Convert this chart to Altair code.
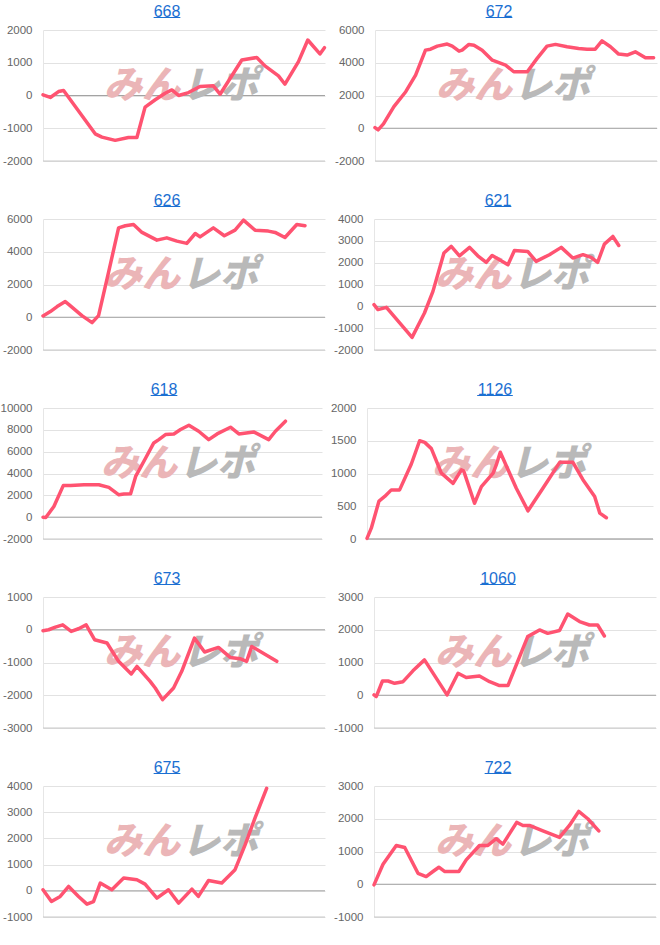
import altair as alt
import pandas as pd

titles = ["668", "672", "626", "621", "618", "1126", "673", "1060", "675", "722"]

x_668 = [0, 2.6, 5.5, 7.3, 18.5, 20.9, 25.6, 30.3, 33.3, 36.2, 39.8, 43.3, 45.7, 48.1, 51.6, 55.7, 60.4, 62.8, 70.5, 75.8, 78.7, 83.5, 85.8, 90.6, 93.9, 98.2, 99.8]
y_668 = [20, -60, 120, 150, -1170, -1270, -1370, -1280, -1280, -355, -130, 70, 170, 0, 90, 275, 295, 40, 1085, 1160, 905, 600, 345, 1035, 1695, 1270, 1460]

x_672 = [0, 1.1, 3.0, 6.7, 10.9, 14.4, 17.9, 19.7, 22.1, 25.6, 27.4, 29.8, 30.9, 33.3, 35.1, 38.0, 41.6, 46.3, 49.2, 54.0, 57.5, 61.0, 64.0, 68.1, 72.2, 75.2, 78.1, 80.5, 83.5, 86.4, 89.4, 92.3, 95.9, 98.8]
y_672 = [40, -100, 265, 1320, 2230, 3250, 4770, 4830, 5015, 5140, 5015, 4710, 4770, 5120, 5075, 4770, 4160, 3860, 3450, 3450, 4265, 5015, 5120, 4975, 4870, 4830, 4830, 5340, 4975, 4530, 4470, 4670, 4300, 4300]

x_626 = [0, 2.6, 5.0, 7.9, 9.1, 13.8, 17.4, 19.7, 23.3, 26.8, 29.2, 32.1, 35.1, 40.4, 43.9, 47.5, 51.0, 54.0, 55.7, 60.4, 64.3, 68.1, 71.1, 75.2, 79.9, 82.3, 85.8, 90.0, 92.9]
y_626 = [80, 345, 650, 955, 790, 100, -325, 100, 2780, 5460, 5585, 5665, 5180, 4710, 4850, 4650, 4510, 5115, 4910, 5460, 4975, 5320, 5930, 5320, 5260, 5180, 4870, 5665, 5585]

x_621 = [0, 1.4, 4.4, 9.1, 13.5, 17.9, 20.9, 24.8, 27.4, 30.3, 33.9, 36.8, 39.8, 41.9, 44.5, 47.5, 49.8, 54.5, 57.5, 62.2, 66.4, 70.5, 74.1, 77.0, 79.3, 81.7, 84.7, 86.8]
y_621 = [75, -150, -45, -760, -1420, -305, 685, 2440, 2745, 2315, 2700, 2315, 2010, 2330, 2135, 1905, 2560, 2515, 2060, 2365, 2700, 2210, 2365, 2240, 2010, 2850, 3200, 2790]

x_618 = [0, 1.0, 3.9, 7.3, 9.9, 14.7, 20.0, 23.6, 27.2, 29.0, 31.4, 33.2, 36.8, 39.7, 41.5, 43.9, 46.9, 49.3, 52.3, 55.8, 59.4, 62.4, 67.2, 70.2, 75.5, 80.9, 83.3, 86.9]
y_618 = [0, -30, 980, 2910, 2910, 2970, 2970, 2725, 2050, 2115, 2145, 3735, 5420, 6800, 7105, 7565, 7625, 8025, 8420, 7870, 7105, 7625, 8240, 7625, 7810, 7105, 7870, 8790]

x_1126 = [0, 1.5, 4.2, 6.2, 8.5, 11.4, 15.5, 18.4, 20.2, 22.5, 26.0, 30.1, 33.0, 33.8, 37.6, 40.0, 44.1, 45.2, 46.6, 52.2, 56.3, 61.5, 67.4, 72.0, 75.5, 79.6, 81.4, 83.7]
y_1126 = [10, 165, 580, 650, 750, 750, 1145, 1500, 1475, 1380, 1005, 850, 1055, 1040, 545, 800, 1005, 1130, 1325, 775, 430, 775, 1170, 1170, 905, 650, 395, 325]

x_673 = [0, 2.0, 4.4, 7.0, 10.0, 12.6, 15.3, 18.3, 22.7, 26.8, 31.3, 33.3, 38.0, 39.8, 42.4, 46.3, 49.2, 53.7, 57.3, 62.2, 66.4, 69.9, 72.2, 74.0, 78.7, 82.9]
y_673 = [-30, 0, 80, 150, -50, 30, 150, -305, -405, -965, -1350, -1120, -1575, -1780, -2135, -1780, -1270, -255, -680, -540, -845, -885, -965, -510, -745, -965]

x_1060 = [0, 0.8, 3.0, 5.0, 7.3, 10.3, 13.8, 17.9, 25.9, 29.8, 32.7, 37.4, 41.0, 44.5, 47.5, 54.5, 58.7, 61.6, 65.8, 68.7, 72.9, 76.4, 79.3, 81.7]
y_1060 = [10, -40, 435, 435, 365, 415, 745, 1080, 10, 670, 540, 590, 415, 295, 295, 1790, 1995, 1890, 1975, 2480, 2250, 2145, 2145, 1810]

x_675 = [0, 3.0, 6.1, 9.1, 12.6, 15.6, 17.9, 20.3, 24.4, 28.6, 33.3, 36.2, 40.4, 44.5, 48.1, 52.8, 55.1, 58.7, 63.4, 68.1, 71.7, 75.2, 79.3]
y_675 = [40, -410, -215, 165, -215, -510, -410, 295, 40, 485, 420, 255, -280, 40, -470, 65, -215, 395, 295, 805, 1760, 2785, 3910]

x_722 = [0, 3.2, 7.9, 10.9, 15.6, 18.5, 20.9, 23.0, 25.0, 30.1, 32.7, 37.4, 40.4, 43.3, 45.7, 50.6, 52.8, 55.1, 59.9, 65.8, 69.3, 72.6, 75.8, 79.7]
y_722 = [-20, 610, 1185, 1120, 335, 235, 390, 520, 390, 390, 745, 1185, 1185, 1390, 1225, 1890, 1795, 1795, 1630, 1430, 1795, 2225, 2000, 1630]

ticks_668 = [-2000, -1000, 0, 1000, 2000]
ticks_672 = [-2000, 0, 2000, 4000, 6000]
ticks_626 = [-2000, 0, 2000, 4000, 6000]
ticks_621 = [-2000, -1000, 0, 1000, 2000, 3000, 4000]
ticks_618 = [-2000, 0, 2000, 4000, 6000, 8000, 10000]
ticks_1126 = [0, 500, 1000, 1500, 2000]
ticks_673 = [-3000, -2000, -1000, 0, 1000]
ticks_1060 = [-1000, 0, 1000, 2000, 3000]
ticks_675 = [-1000, 0, 1000, 2000, 3000, 4000]
ticks_722 = [-1000, 0, 1000, 2000, 3000]

watermark = ["みん", "レポ"]

series = [
    (x_668, y_668, ticks_668), (x_672, y_672, ticks_672),
    (x_626, y_626, ticks_626), (x_621, y_621, ticks_621),
    (x_618, y_618, ticks_618), (x_1126, y_1126, ticks_1126),
    (x_673, y_673, ticks_673), (x_1060, y_1060, ticks_1060),
    (x_675, y_675, ticks_675), (x_722, y_722, ticks_722),
]

LINE = "#ff5371"
TITLE = "#1b6fd2"
FONT = "Liberation Sans"
JP = "Noto Sans CJK JP"
PLOT_H = 131
# plot-area left offset inside each column and panel width (layout only)
lefts = [41, 41, 41, 41, 44, 37, 41, 41, 41, 41]
widths = [282, 282, 282, 282, 279, 286, 282, 282, 282, 282]


def panel(i):
    xs, ys, ticks = series[i]
    title = titles[i]
    left = lefts[i]
    w = widths[i]
    lo, hi = ticks[0], ticks[-1]
    df = pd.DataFrame({"x": xs, "y": ys})
    yscale = alt.Scale(domain=[lo, hi], nice=False, zero=False)
    xscale = alt.Scale(domain=[0, 100], nice=False, zero=False)

    yaxis = alt.Axis(values=ticks, title=None, labelFont=FONT, labelFontSize=11.5,
                     labelColor="#666666", labelPadding=11, ticks=False, tickSize=0,
                     labelOverlap=False, labelBound=False,
                     domain=True, domainColor="#e6e6e6", grid=True, gridColor="#e2e2e2",
                     labelExpr="'' + datum.value")

    base_rows = pd.DataFrame({"y": [lo]})
    zero_rows = pd.DataFrame({"y": [0]})

    grid = alt.Chart(base_rows).mark_rule(color="#c8c8c8", strokeWidth=1).encode(
        y=alt.Y("y:Q", scale=yscale, axis=yaxis))
    zero = alt.Chart(zero_rows).mark_rule(color="#a3a3a3", strokeWidth=1).encode(
        y=alt.Y("y:Q", scale=yscale, axis=yaxis))

    cx = 179 - left
    wm1 = alt.Chart(pd.DataFrame({"t": [watermark[0]]})).mark_text(
        font=JP, fontSize=38, fontWeight=900, fontStyle="italic",
        color="#ebb5b7", align="right", baseline="middle").encode(
        text="t:N", x=alt.value(cx - 1), y=alt.value(57))
    wm2 = alt.Chart(pd.DataFrame({"t": [watermark[1]]})).mark_text(
        font=JP, fontSize=38, fontWeight=900, fontStyle="italic",
        color="#b9b9b9", align="left", baseline="middle").encode(
        text="t:N", x=alt.value(cx + 1), y=alt.value(57))

    line = alt.Chart(df).mark_line(color=LINE, strokeWidth=3.5, strokeJoin="round",
                                   strokeCap="round").encode(
        x=alt.X("x:Q", scale=xscale, axis=None),
        y=alt.Y("y:Q", scale=yscale, axis=yaxis))

    tx = 165 - left
    tw = len(title) * 8.9
    ttl = alt.Chart(pd.DataFrame({"t": [title]})).mark_text(
        font=FONT, fontSize=16, color=TITLE, align="center", baseline="alphabetic").encode(
        text="t:N", x=alt.value(tx), y=alt.value(-13.5))
    uline = alt.Chart(pd.DataFrame({"t": [title]})).mark_rule(color=TITLE, strokeWidth=1).encode(
        x=alt.value(tx - tw / 2), x2=alt.value(tx + tw / 2), y=alt.value(-12.5))

    return alt.layer(grid, zero, wm1, wm2, line, ttl, uline).properties(width=w, height=PLOT_H)


rows = []
for r in range(5):
    rows.append(alt.hconcat(panel(2 * r), panel(2 * r + 1), spacing=7))

chart = alt.vconcat(*rows, spacing=25).properties(
    padding={"left": 0, "top": 3, "right": 0, "bottom": 0},
    background="white",
).configure_view(strokeWidth=0).configure_axis(labelOverlap=False)

chart.save("out.html", embed_options={"renderer": "svg", "actions": False})
